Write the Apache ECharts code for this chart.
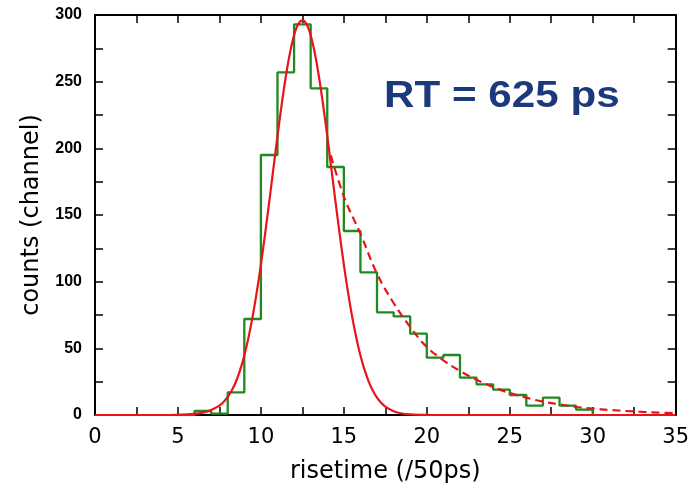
<!DOCTYPE html>
<html>
<head>
<meta charset="utf-8">
<script src="https://cdn.jsdelivr.net/npm/echarts@6/dist/echarts.min.js"></script>
<style>html,body{margin:0;padding:0;background:#fff}#c{width:692px;height:492px}</style>
</head>
<body>
<div id="c"></div>
<script>
// Histogram: left edge of each bin and its count
const binLeft = [5,6,7,8,9,10,11,12,13,14,15,16,17,18,19,20,21,22,23,24,25,26,27,28,29,30];
const binCount = [0,3,1,17,72,195,257,293,245,186,138,107,77,74,61,43,45,28,23,19,15,7,13,7,4,0];

// Gaussian fit curve (solid red)
const gaussX = [0,4.5,5,5.5,6,6.5,7,7.5,7.75,8,8.25,8.5,8.75,9,9.25,9.5,9.75,10,10.25,10.5,10.75,11,11.25,11.5,11.75,12,12.25,12.5,12.75,13,13.25,13.5,13.75,14,14.25,14.5,14.75,15,15.25,15.5,15.75,16,16.25,16.5,16.75,17,17.25,17.5,18,18.5,19,19.5,20,20.5,35];
const gaussY = [0,0,0.1,0.3,0.8,1.8,3.8,7.0,9.8,13.5,18.5,25.1,33.8,44.7,58.0,73.8,92.2,112.8,135.5,159.7,184.5,209.2,232.6,253.7,271.4,284.8,293.2,296,293.2,284.8,271.4,253.7,232.6,209.2,184.5,159.7,135.5,112.8,92.2,73.8,58.0,44.7,33.8,25.1,18.2,13.0,9.1,6.25,2.8,1.1,0.44,0.15,0.05,0,0];

// Exponential tail fit (dashed red)
const tailX = [14,15,16,17,18,19,20,21,22,23,24,25,26,27,28,29,30,31,32,33,34,35];
const tailY = [204,164,136,106,84,66,51,41,33,26.5,21,16.5,13,10,8,6,4.8,3.8,3,2.3,1.8,1.4];

const xTitle = 'risetime (/50ps)';
const yTitle = 'counts (channel)';
const note = 'RT = 625 ps';

const zip = (a, b) => a.map((v, i) => [v, b[i]]);

const chart = echarts.init(document.getElementById('c'));
const mkLine = () => ({ show: true, onZero: false, lineStyle: { color: '#000', width: 2 } });
const mkTick = () => ({ show: true, inside: true, length: 8, lineStyle: { color: '#000', width: 1.5 } });

chart.setOption({
  animation: false,
  grid: { left: 95, right: 16, top: 15, bottom: 77, containLabel: false },
  xAxis: [
    {
      type: 'value', min: 0, max: 35, interval: 2.5, position: 'bottom',
      axisLine: mkLine(), axisTick: mkTick(), splitLine: { show: false },
      axisLabel: {
        margin: 12, color: '#000', fontSize: 21, fontFamily: 'DejaVu Sans',
        formatter: v => (v % 5 === 0 ? String(v) : '')
      },
      name: xTitle, nameLocation: 'middle', nameGap: 45,
      nameTextStyle: { color: '#000', fontSize: 24, fontFamily: 'DejaVu Sans' }
    },
    {
      type: 'value', min: 0, max: 35, interval: 2.5, position: 'top',
      axisLine: mkLine(), axisTick: mkTick(), splitLine: { show: false },
      axisLabel: { show: false }
    }
  ],
  yAxis: [
    {
      type: 'value', min: 0, max: 300, interval: 25, position: 'left',
      axisLine: mkLine(), axisTick: mkTick(), splitLine: { show: false },
      axisLabel: {
        margin: 13, color: '#000', fontSize: 16, fontWeight: 'bold', fontFamily: 'Liberation Sans',
        formatter: v => (v % 50 === 0 ? String(v) : '')
      },
      name: yTitle, nameLocation: 'middle', nameGap: 51, nameRotate: 90,
      nameTextStyle: { color: '#000', fontSize: 24, fontFamily: 'DejaVu Sans' }
    },
    {
      type: 'value', min: 0, max: 300, interval: 25, position: 'right',
      axisLine: mkLine(), axisTick: mkTick(), splitLine: { show: false },
      axisLabel: { show: false }
    }
  ],
  series: [
    {
      type: 'line', data: zip(binLeft, binCount), step: 'end', symbol: 'none',
      lineStyle: { color: '#1f8a1f', width: 2.3 }, z: 2
    },
    {
      type: 'line', data: zip(gaussX, gaussY), smooth: 0.3, symbol: 'none',
      lineStyle: { color: '#e8141a', width: 2.2 }, z: 3
    },
    {
      type: 'line', data: zip(tailX, tailY), smooth: 0.4, symbol: 'none',
      lineStyle: { color: '#e8141a', width: 2.2, type: [8, 5] }, z: 3
    }
  ],
  graphic: [
    {
      type: 'text', x: 384, y: 78, scaleX: 1.14,
      style: { text: note, fill: '#1b3a7d', font: 'bold 37px "Liberation Sans", Arial, sans-serif' }
    }
  ]
});
</script>
</body>
</html>
